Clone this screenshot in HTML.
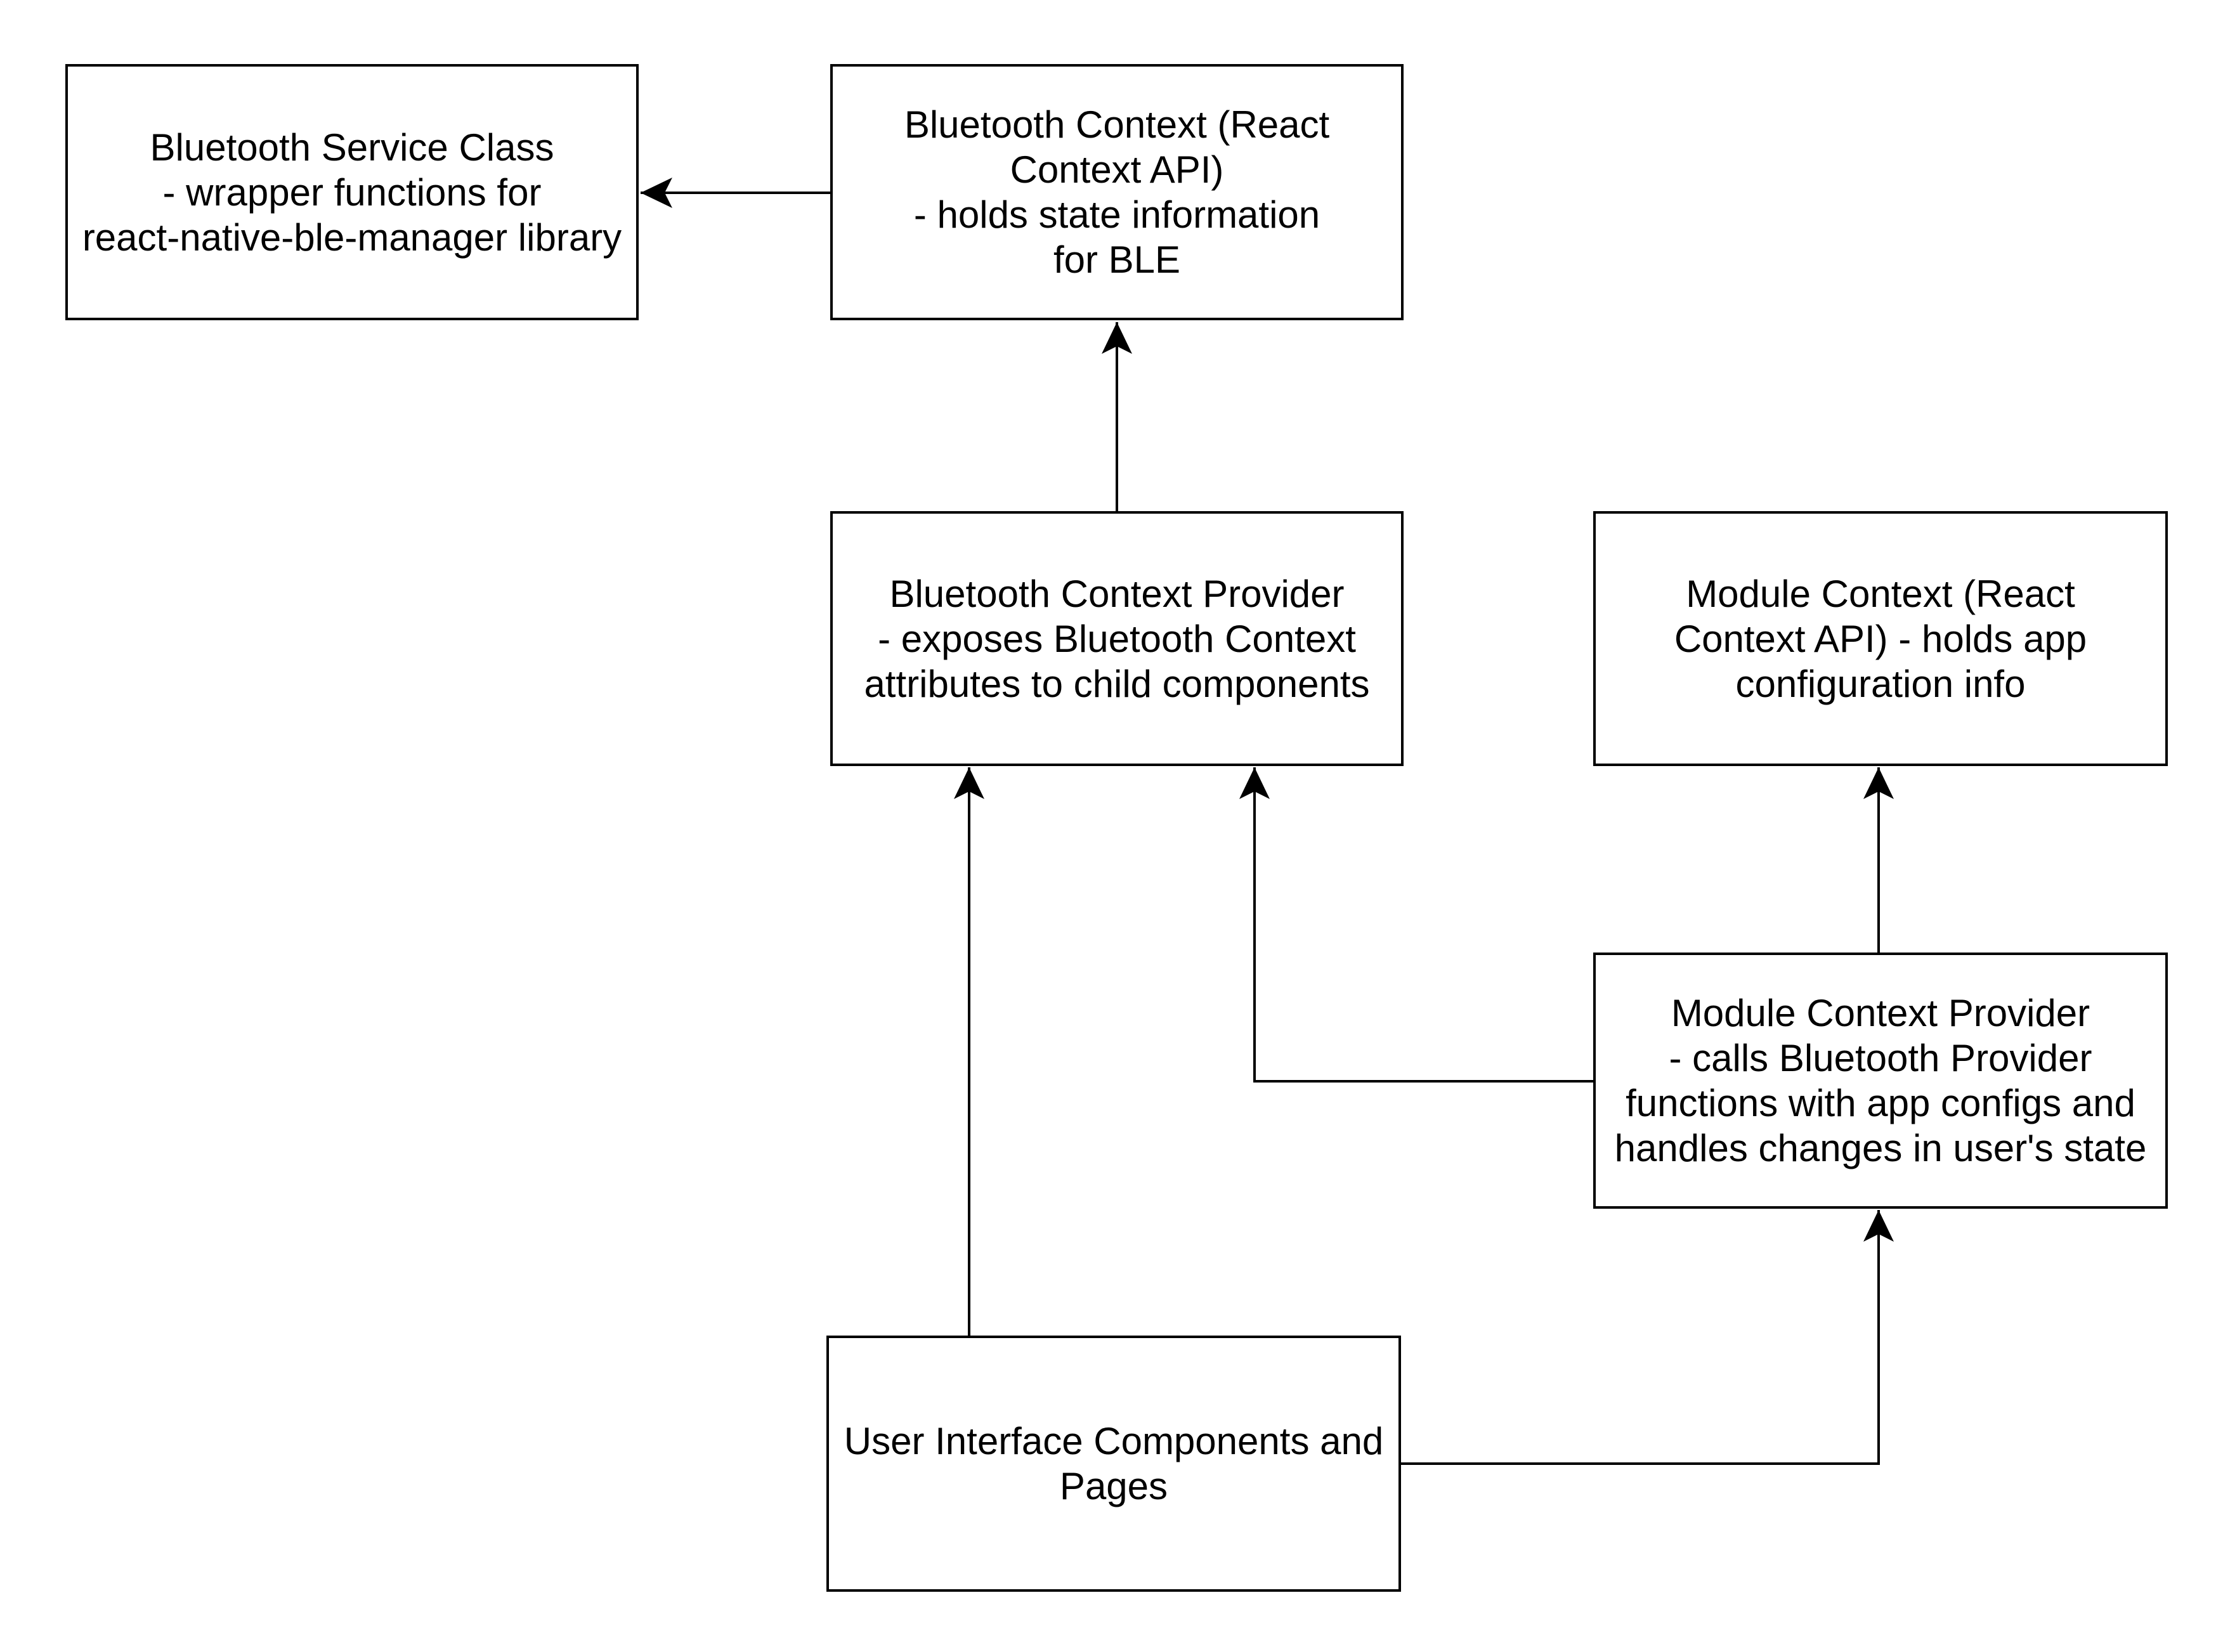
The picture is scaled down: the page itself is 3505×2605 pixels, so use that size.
<!DOCTYPE html>
<html><head><meta charset="utf-8"><style>
html,body{margin:0;padding:0;background:#fff;}
body{width:3505px;height:2605px;position:relative;overflow:hidden;font-family:"Liberation Sans",sans-serif;}
.b{position:absolute;box-sizing:border-box;border:4.5px solid #000;background:#fff;display:flex;align-items:center;justify-content:center;text-align:center;font-size:60px;line-height:71px;color:#000;letter-spacing:0;}
svg{position:absolute;left:0;top:0;}
</style></head><body>
<svg width="3505" height="2605" viewBox="0 0 3505 2605">
<defs><marker id="a" markerUnits="userSpaceOnUse" markerWidth="60" markerHeight="60" refX="50" refY="24" orient="auto"><path d="M50,24 L0,0 L12,24 L0,48 Z" fill="#000"/></marker></defs>
<g stroke="#000" stroke-width="4" fill="none">
<path d="M1309,304 L1010,304" marker-end="url(#a)"/>
<path d="M1761,807 L1761,508" marker-end="url(#a)"/>
<path d="M1528,2106 L1528,1210" marker-end="url(#a)"/>
<path d="M2512,1705 L1978,1705 L1978,1210" marker-end="url(#a)"/>
<path d="M2962,1502 L2962,1210" marker-end="url(#a)"/>
<path d="M2208,2308 L2962,2308 L2962,1908" marker-end="url(#a)"/>
</g></svg>
<div class="b" style="left:103px;top:101px;width:904px;height:404px;">Bluetooth Service Class<br>- wrapper functions for<br>react-native-ble-manager library</div>
<div class="b" style="left:1309px;top:101px;width:904px;height:404px;">Bluetooth Context (React<br>Context API)<br>- holds state information<br>for BLE</div>
<div class="b" style="left:1309px;top:806px;width:904px;height:402px;">Bluetooth Context Provider<br>- exposes Bluetooth Context<br>attributes to child components</div>
<div class="b" style="left:2512px;top:806px;width:906px;height:402px;">Module Context (React<br>Context API) - holds app<br>configuration info</div>
<div class="b" style="left:2512px;top:1502px;width:906px;height:404px;">Module Context Provider<br>- calls Bluetooth Provider<br>functions with app configs and<br>handles changes in user's state</div>
<div class="b" style="left:1303px;top:2106px;width:906px;height:404px;">User Interface Components and<br>Pages</div>
</body></html>
